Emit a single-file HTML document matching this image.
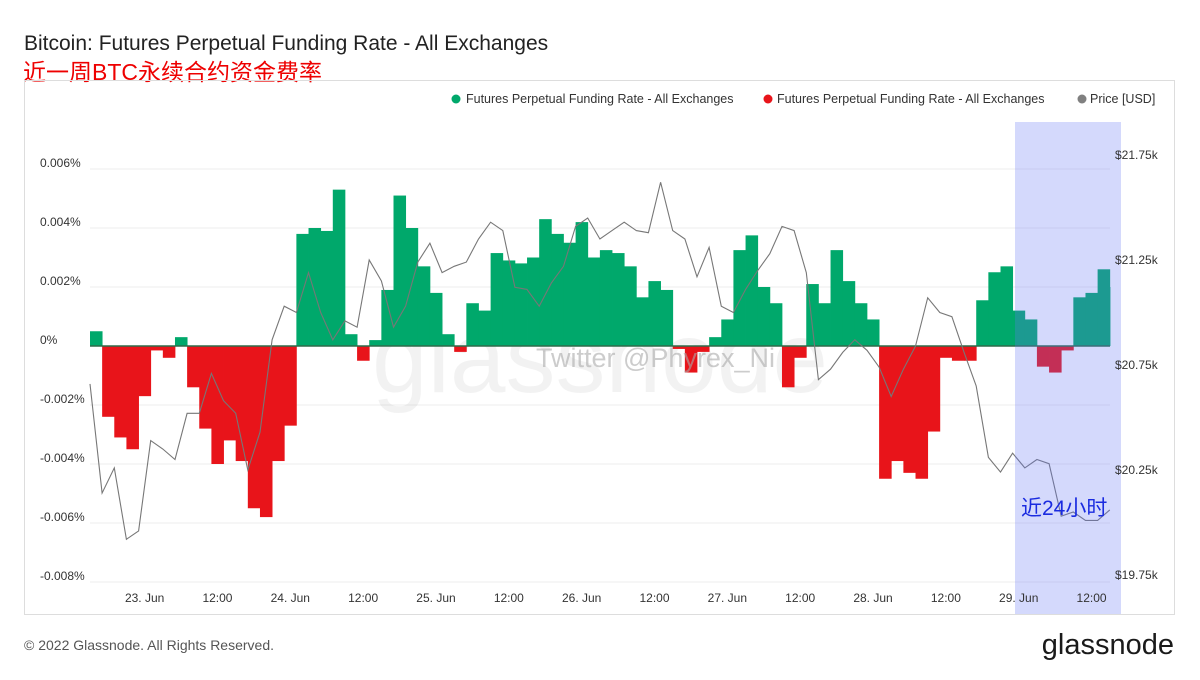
<!DOCTYPE html>
<html><head><meta charset="utf-8"><style>
body{margin:0;width:1200px;height:675px;background:#fff;overflow:hidden;font-family:"Liberation Sans","Noto Sans CJK SC",sans-serif}
</style></head><body>
<svg id="chart" width="1200" height="675" xmlns="http://www.w3.org/2000/svg" font-family="Liberation Sans, Noto Sans CJK SC, sans-serif">
<text x="24" y="50" font-size="21" fill="#222">Bitcoin: Futures Perpetual Funding Rate - All Exchanges</text>
<text x="23" y="80" font-size="23" fill="#ee0000">近一周BTC永续合约资金费率</text>
<rect x="24.5" y="80.5" width="1150" height="534" fill="none" stroke="#ddd"/>
<g id="grid"></g>
<text x="600" y="392" font-size="100" fill="#000" fill-opacity="0.05" text-anchor="middle">glassnode</text>
<g id="bars"></g>
<line id="zero" x1="90" x2="1110" stroke="#2e6b4a" stroke-width="1.5"/>
<path id="price" fill="none" stroke="#777" stroke-width="1.1"/>
<text x="536" y="367" font-size="27" fill="#aaa" fill-opacity="0.6">Twitter @Phyrex_Ni</text>
<rect x="1015" y="122" width="106" height="492" fill="rgb(100,120,245)" fill-opacity="0.28"/>
<text x="1021" y="515" font-size="21" fill="#1a2be0">近24小时</text>
<g id="axes" font-size="12" fill="#333"></g>
<g font-size="12.5" fill="#333">
<circle cx="456" cy="99" r="4.5" fill="#00a86b"/>
<text x="466" y="103">Futures Perpetual Funding Rate - All Exchanges</text>
<circle cx="768" cy="99" r="4.5" fill="#e8141a"/>
<text x="777" y="103">Futures Perpetual Funding Rate - All Exchanges</text>
<circle cx="1082" cy="99" r="4.5" fill="#808080"/>
<text x="1090" y="103">Price [USD]</text>
</g>
<text x="24" y="650" font-size="14" fill="#555">© 2022 Glassnode. All Rights Reserved.</text>
<text x="1174" y="654" font-size="29" fill="#1a1a1a" text-anchor="end">glassnode</text>
</svg>
<script>
// funding rate in units of 0.001%, 2-hour steps from 22 Jun 15:00
const funding=[0.5,-2.4,-3.1,-3.5,-1.7,-0.15,-0.4,0.3,-1.4,-2.8,-4.0,-3.2,-3.9,-5.5,-5.8,-3.9,-2.7,3.8,4.0,3.9,5.3,0.4,-0.5,0.2,1.9,5.1,4.0,2.7,1.8,0.4,-0.2,1.45,1.2,3.15,2.9,2.8,3.0,4.3,3.8,3.5,4.2,3.0,3.25,3.15,2.7,1.65,2.2,1.9,-0.1,-0.9,-0.2,0.3,0.9,3.25,3.75,2.0,1.45,-1.4,-0.4,2.1,1.45,3.25,2.2,1.45,0.9,-4.5,-3.9,-4.3,-4.5,-2.9,-0.4,-0.5,-0.5,1.55,2.5,2.7,1.2,0.9,-0.7,-0.9,-0.15,1.65,1.8,2.6,2.0];
// BTC price in $k
const price=[20.66,20.14,20.26,19.92,19.96,20.39,20.35,20.30,20.52,20.52,20.71,20.58,20.52,20.25,20.43,20.87,21.03,21.00,21.19,21.00,20.87,20.96,20.93,21.25,21.15,20.93,21.03,21.24,21.33,21.19,21.22,21.24,21.35,21.43,21.39,21.12,21.11,21.03,21.14,21.22,21.41,21.45,21.35,21.39,21.43,21.39,21.38,21.62,21.39,21.35,21.17,21.31,21.03,21.00,21.11,21.20,21.28,21.41,21.39,21.19,20.68,20.73,20.81,20.87,20.82,20.74,20.60,20.73,20.84,21.07,21.00,20.98,20.81,20.65,20.31,20.24,20.33,20.26,20.30,20.28,20.03,20.05,20.01,20.01,20.06];
const leftTicks=[6,4,2,0,-2,-4,-6,-8];
const leftLabels=["0.006%","0.004%","0.002%","0%","-0.002%","-0.004%","-0.006%","-0.008%"];
const rightTicks=[21.75,21.25,20.75,20.25,19.75];
const rightLabels=["$21.75k","$21.25k","$20.75k","$20.25k","$19.75k"];
const xTickHours=[9,21,33,45,57,69,81,93,105,117,129,141,153,165];
const xLabels=["23. Jun","12:00","24. Jun","12:00","25. Jun","12:00","26. Jun","12:00","27. Jun","12:00","28. Jun","12:00","29. Jun","12:00"];
const NS="http://www.w3.org/2000/svg";
const x0=90,pxH=6.07,step=2;
const xs=h=>x0+h*pxH;
const yF=v=>346-v*29.5;
const yP=p=>155+(21.75-p)*210;
const g=document.getElementById('grid'),b=document.getElementById('bars'),ax=document.getElementById('axes');
function mk(t,a,p){const e=document.createElementNS(NS,t);for(const k in a)e.setAttribute(k,a[k]);p.appendChild(e);return e;}
leftTicks.forEach((v,i)=>{
 const l=mk('line',{x1:90,x2:1110,y1:yF(v),y2:yF(v),stroke:'#eee'},g);
 
 
 const t=mk('text',{x:40,y:yF(v)-2},ax);t.textContent=leftLabels[i];
 
 
});
rightTicks.forEach((v,i)=>{
 const t=mk('text',{x:1115,y:yP(v)+4},ax);t.textContent=rightLabels[i];
 
 
});
xTickHours.forEach((h,i)=>{
 const t=mk('text',{x:xs(h),y:602,'text-anchor':'middle'},ax);t.textContent=xLabels[i];
 
 
});
funding.forEach((v,i)=>{
 const x=xs(i*step),w=Math.min(step*pxH,1110-x)+0.4;
 const y=v>=0?yF(v):yF(0),h=Math.abs(yF(v)-yF(0));
 const r=mk('rect',{x:x,y:y,width:w,height:h,fill:v>=0?'#00a86b':'#e8141a'},b);
 
 
});
const z=document.getElementById('zero');z.setAttribute('y1',yF(0));z.setAttribute('y2',yF(0));
document.getElementById('price').setAttribute('d',price.map((p,i)=>(i?'L':'M')+xs(i*step).toFixed(1)+','+yP(p).toFixed(1)).join(''));
</script>
</body></html>
